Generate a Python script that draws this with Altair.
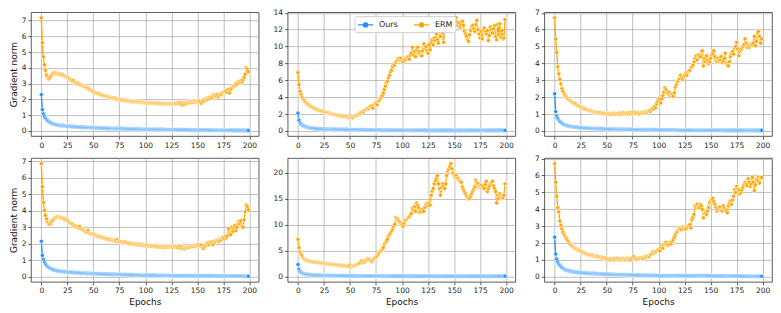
import altair as alt
import pandas as pd

EPOCHS = list(range(200))
X_TICKS = [0, 25, 50, 75, 100, 125, 150, 175, 200]
SERIES = ["Ours", "ERM"]
COLORS = ["#1e90ff", "#ffa500"]

# ---------------- panel 1 (top left) ----------------
erm_1 = [
    7.18, 5.6, 4.7, 4.2, 3.85, 3.55, 3.4, 3.3, 3.35, 3.45,
    3.55, 3.65, 3.7, 3.68, 3.62, 3.65, 3.6, 3.58, 3.62, 3.55,
    3.6, 3.52, 3.5, 3.45, 3.42, 3.38, 3.35, 3.3, 3.25, 3.2,
    3.15, 3.2, 3.1, 3.05, 3.0, 2.98, 3.02, 2.95, 2.9, 2.88,
    2.85, 2.8, 2.78, 2.75, 2.7, 2.72, 2.65, 2.6, 2.55, 2.5,
    2.52, 2.45, 2.42, 2.4, 2.38, 2.35, 2.3, 2.32, 2.28, 2.25,
    2.25, 2.22, 2.2, 2.18, 2.2, 2.15, 2.12, 2.1, 2.08, 2.1,
    2.05, 2.08, 2.02, 2.0, 2.02, 1.98, 2.0, 1.95, 1.98, 1.95,
    1.92, 1.95, 1.9, 1.92, 1.88, 1.9, 1.87, 1.88, 1.85, 1.87,
    1.85, 1.86, 1.83, 1.85, 1.82, 1.84, 1.8, 1.82, 1.8, 1.78,
    1.8, 1.78, 1.8, 1.77, 1.79, 1.76, 1.78, 1.75, 1.77, 1.74,
    1.76, 1.75, 1.74, 1.76, 1.73, 1.75, 1.72, 1.74, 1.73, 1.71,
    1.74, 1.72, 1.7, 1.73, 1.71, 1.72, 1.7, 1.74, 1.72, 1.75,
    1.73, 1.76, 1.72, 1.78, 1.68, 1.75, 1.65, 1.78, 1.7, 1.8,
    1.75, 1.82, 1.78, 1.85, 1.8, 1.88, 1.82, 1.9, 1.85, 1.82,
    1.88, 1.85, 1.9, 1.8, 1.75, 1.85, 1.95, 1.9, 2.0, 2.05,
    2.0, 2.1, 2.05, 2.15, 2.1, 2.2, 2.3, 2.25, 2.2, 2.3,
    2.15, 2.25, 2.35, 2.3, 2.4, 2.45, 2.5, 2.55, 2.45, 2.6,
    2.65, 2.4, 2.6, 2.7, 2.8, 2.85, 2.9, 3.0, 2.95, 3.1,
    3.05, 3.15, 3.2, 3.1, 3.25, 3.4, 3.6, 4.0, 3.9, 3.75,
]
ours_1 = [
    2.30, 1.35, 1.08, 0.92, 0.80, 0.72, 0.65, 0.60, 0.55, 0.52,
    0.48, 0.45, 0.43, 0.41, 0.40, 0.38, 0.37, 0.36, 0.35, 0.34,
    0.33, 0.33, 0.32, 0.31, 0.31, 0.30, 0.29, 0.29, 0.28, 0.28,
    0.27, 0.27, 0.26, 0.26, 0.25, 0.25, 0.25, 0.24, 0.24, 0.23,
    0.23, 0.23, 0.22, 0.22, 0.22, 0.21, 0.21, 0.21, 0.20, 0.20,
    0.20, 0.19, 0.19, 0.19, 0.19, 0.18, 0.18, 0.18, 0.18, 0.17,
    0.17, 0.17, 0.17, 0.16, 0.16, 0.16, 0.16, 0.16, 0.15, 0.15,
    0.15, 0.15, 0.15, 0.14, 0.14, 0.14, 0.14, 0.14, 0.13, 0.13,
    0.13, 0.13, 0.13, 0.13, 0.12, 0.12, 0.12, 0.12, 0.12, 0.12,
    0.11, 0.11, 0.11, 0.11, 0.11, 0.11, 0.10, 0.10, 0.10, 0.10,
    0.10, 0.10, 0.10, 0.09, 0.09, 0.09, 0.09, 0.09, 0.09, 0.09,
    0.09, 0.08, 0.08, 0.08, 0.08, 0.08, 0.08, 0.08, 0.08, 0.08,
    0.07, 0.07, 0.07, 0.07, 0.07, 0.07, 0.07, 0.07, 0.07, 0.07,
    0.07, 0.06, 0.06, 0.06, 0.06, 0.06, 0.06, 0.06, 0.06, 0.06,
    0.06, 0.06, 0.06, 0.05, 0.05, 0.05, 0.05, 0.05, 0.05, 0.05,
    0.05, 0.05, 0.05, 0.05, 0.05, 0.05, 0.05, 0.05, 0.05, 0.05,
    0.05, 0.04, 0.04, 0.04, 0.04, 0.04, 0.04, 0.04, 0.04, 0.04,
    0.04, 0.04, 0.04, 0.04, 0.04, 0.04, 0.04, 0.04, 0.04, 0.04,
    0.04, 0.04, 0.04, 0.04, 0.03, 0.03, 0.03, 0.03, 0.03, 0.03,
    0.03, 0.03, 0.03, 0.03, 0.03, 0.03, 0.03, 0.03, 0.03, 0.03,
]

# ---------------- panel 2 (top middle) ----------------
erm_2 = [
    6.9, 5.5, 4.7, 4.3, 4.0, 3.8, 3.6, 3.45, 3.3, 3.2,
    3.1, 3.0, 2.9, 2.85, 2.8, 2.7, 2.65, 2.6, 2.55, 2.5,
    2.45, 2.4, 2.38, 2.35, 2.3, 2.25, 2.2, 2.2, 2.15, 2.1,
    2.1, 2.05, 2.0, 2.0, 1.95, 1.92, 1.9, 1.88, 1.85, 1.85,
    1.8, 1.78, 1.75, 1.8, 1.72, 1.7, 1.75, 1.65, 1.68, 1.6,
    1.55, 1.65, 1.7, 1.6, 1.75, 1.8, 1.85, 1.9, 2.0, 2.1,
    2.05, 2.2, 2.3, 2.25, 2.45, 2.5, 2.6, 2.7, 2.65, 2.85,
    2.9, 3.0, 2.7, 3.1, 3.2, 3.3, 3.1, 3.5, 3.6, 3.8,
    4.0, 4.2, 4.5, 4.9, 5.3, 5.7, 5.9, 6.3, 6.6, 7.0,
    7.2, 7.6, 7.9, 7.8, 8.1, 8.3, 8.5, 8.6, 8.4, 8.6,
    8.3, 8.2, 8.5, 8.4, 8.7, 8.6, 8.8, 8.5, 9.0, 9.2,
    9.9, 9.0, 9.4, 8.8, 9.6, 9.9, 9.2, 9.4, 9.0, 8.9,
    9.5, 10.3, 9.8, 10.0, 9.5, 9.2, 10.2, 9.6, 10.5, 10.8,
    10.2, 11.0, 10.7, 11.5, 10.8, 10.4, 11.8, 11.2, 12.0, 11.6,
    10.5, 11.9, 12.0, 12.5, 13.0, 12.8, 13.2, 12.6, 13.0, 12.9,
    13.2, 12.7, 13.4, 12.9, 12.5, 12.8, 12.3, 12.6, 13.0, 12.5,
    11.8, 11.5, 11.2, 10.8, 10.6, 11.4, 11.9, 12.3, 12.5, 12.1,
    11.8, 12.6, 13.1, 12.0, 11.5, 11.0, 11.8, 10.9, 12.0, 12.2,
    11.8, 11.5, 11.9, 10.7, 11.3, 12.3, 12.0, 11.6, 12.1, 12.5,
    11.2, 10.8, 12.6, 11.4, 12.7, 11.1, 11.9, 10.9, 11.0, 13.2,
]
ours_2 = [
    2.10, 1.25, 0.95, 0.80, 0.70, 0.62, 0.56, 0.50, 0.46, 0.43,
    0.40, 0.37, 0.35, 0.33, 0.31, 0.30, 0.28, 0.27, 0.26, 0.25,
    0.25, 0.24, 0.23, 0.23, 0.22, 0.22, 0.21, 0.21, 0.20, 0.20,
    0.20, 0.19, 0.19, 0.19, 0.18, 0.18, 0.18, 0.17, 0.17, 0.17,
    0.17, 0.16, 0.16, 0.16, 0.16, 0.15, 0.15, 0.15, 0.15, 0.14,
    0.14, 0.14, 0.14, 0.14, 0.13, 0.13, 0.13, 0.13, 0.13, 0.12,
    0.12, 0.12, 0.12, 0.12, 0.12, 0.11, 0.11, 0.11, 0.11, 0.11,
    0.11, 0.11, 0.10, 0.10, 0.10, 0.10, 0.10, 0.10, 0.10, 0.10,
    0.09, 0.09, 0.09, 0.09, 0.09, 0.09, 0.09, 0.09, 0.09, 0.09,
    0.09, 0.08, 0.08, 0.08, 0.08, 0.08, 0.08, 0.08, 0.08, 0.08,
    0.08, 0.08, 0.08, 0.07, 0.07, 0.07, 0.07, 0.08, 0.07, 0.07,
    0.07, 0.07, 0.07, 0.07, 0.07, 0.07, 0.07, 0.07, 0.07, 0.07,
    0.07, 0.06, 0.07, 0.06, 0.06, 0.07, 0.06, 0.06, 0.06, 0.06,
    0.06, 0.06, 0.06, 0.07, 0.06, 0.06, 0.06, 0.06, 0.06, 0.06,
    0.06, 0.06, 0.06, 0.06, 0.07, 0.06, 0.06, 0.06, 0.06, 0.06,
    0.06, 0.06, 0.06, 0.07, 0.06, 0.06, 0.06, 0.06, 0.06, 0.07,
    0.06, 0.06, 0.07, 0.06, 0.06, 0.06, 0.07, 0.06, 0.06, 0.06,
    0.06, 0.07, 0.06, 0.06, 0.06, 0.07, 0.06, 0.06, 0.07, 0.06,
    0.06, 0.07, 0.06, 0.06, 0.07, 0.06, 0.07, 0.06, 0.06, 0.07,
    0.06, 0.07, 0.06, 0.07, 0.06, 0.07, 0.06, 0.07, 0.06, 0.07,
]

# ---------------- panel 3 (top right) ----------------
erm_3 = [
    6.7, 5.45, 4.65, 3.8, 3.38, 3.05, 2.78, 2.5, 2.35, 2.2,
    2.1, 2.02, 1.95, 1.88, 1.82, 1.78, 1.72, 1.68, 1.65, 1.6,
    1.62, 1.55, 1.5, 1.48, 1.45, 1.42, 1.38, 1.35, 1.3, 1.32,
    1.28, 1.25, 1.22, 1.2, 1.18, 1.2, 1.15, 1.13, 1.12, 1.1,
    1.1, 1.08, 1.07, 1.05, 1.1, 1.04, 1.02, 1.05, 1.0, 1.02,
    0.98, 1.0, 1.03, 0.97, 1.0, 1.02, 0.98, 1.05, 1.0, 0.97,
    1.02, 1.0, 1.05, 0.98, 1.03, 1.0, 1.08, 1.02, 1.05, 1.0,
    1.05, 1.02, 1.08, 1.0, 1.06, 1.12, 1.05, 1.1, 1.02, 1.08,
    1.05, 1.0, 1.08, 1.05, 1.1, 1.06, 1.12, 1.08, 1.15, 1.12,
    1.18, 1.2, 1.15, 1.25, 1.35, 1.3, 1.45, 1.38, 1.6, 1.75,
    1.9, 1.8, 1.65, 1.9, 2.1, 2.3, 2.55, 2.45, 2.3, 2.2,
    2.3, 2.1, 2.2, 2.15, 2.05, 2.25, 2.6, 2.75, 2.9, 3.0,
    3.1, 3.3, 3.15, 3.05, 3.2, 3.25, 3.4, 3.3, 3.5, 3.55,
    3.6, 3.75, 3.8, 3.9, 4.1, 4.3, 4.45, 4.2, 4.5, 4.35,
    4.4, 4.7, 4.75, 3.85, 4.3, 4.1, 4.45, 4.2, 4.0, 4.1,
    4.3, 4.5, 4.6, 4.75, 4.4, 4.2, 4.1, 4.3, 4.15, 4.2,
    4.4, 4.05, 4.15, 4.3, 4.6, 4.0, 3.9, 3.85, 4.1, 4.4,
    4.6, 4.7, 4.55, 4.9, 5.0, 5.25, 4.85, 4.45, 4.7, 4.8,
    4.9, 5.0, 5.1, 5.45, 5.2, 4.95, 5.1, 4.95, 5.05, 5.15,
    5.1, 5.2, 5.6, 5.05, 5.3, 5.8, 5.9, 5.6, 5.2, 5.45,
]
ours_3 = [
    2.20, 1.15, 0.88, 0.75, 0.65, 0.57, 0.51, 0.46, 0.42, 0.38,
    0.35, 0.33, 0.31, 0.29, 0.28, 0.27, 0.26, 0.25, 0.24, 0.23,
    0.22, 0.22, 0.21, 0.20, 0.20, 0.19, 0.19, 0.18, 0.18, 0.17,
    0.17, 0.17, 0.16, 0.16, 0.15, 0.15, 0.15, 0.14, 0.14, 0.14,
    0.14, 0.13, 0.13, 0.13, 0.13, 0.12, 0.12, 0.12, 0.12, 0.11,
    0.11, 0.11, 0.11, 0.11, 0.10, 0.10, 0.10, 0.10, 0.10, 0.10,
    0.09, 0.09, 0.09, 0.09, 0.09, 0.09, 0.09, 0.08, 0.08, 0.08,
    0.08, 0.08, 0.08, 0.08, 0.08, 0.07, 0.07, 0.07, 0.07, 0.07,
    0.07, 0.07, 0.07, 0.07, 0.07, 0.06, 0.06, 0.06, 0.06, 0.06,
    0.06, 0.06, 0.06, 0.06, 0.06, 0.06, 0.06, 0.06, 0.06, 0.05,
    0.05, 0.05, 0.05, 0.05, 0.05, 0.05, 0.05, 0.05, 0.05, 0.05,
    0.05, 0.05, 0.05, 0.05, 0.05, 0.05, 0.05, 0.05, 0.04, 0.04,
    0.04, 0.04, 0.04, 0.04, 0.04, 0.04, 0.04, 0.04, 0.04, 0.04,
    0.04, 0.04, 0.04, 0.04, 0.04, 0.04, 0.04, 0.04, 0.04, 0.04,
    0.04, 0.04, 0.04, 0.04, 0.04, 0.04, 0.04, 0.04, 0.04, 0.04,
    0.04, 0.04, 0.04, 0.04, 0.04, 0.04, 0.04, 0.04, 0.04, 0.04,
    0.04, 0.04, 0.03, 0.03, 0.03, 0.03, 0.03, 0.03, 0.03, 0.03,
    0.03, 0.03, 0.03, 0.03, 0.03, 0.03, 0.03, 0.03, 0.03, 0.03,
    0.03, 0.03, 0.03, 0.03, 0.03, 0.03, 0.03, 0.03, 0.03, 0.03,
    0.03, 0.03, 0.03, 0.03, 0.03, 0.03, 0.03, 0.03, 0.03, 0.03,
]

# ---------------- panel 4 (bottom left) ----------------
erm_4 = [
    6.85, 5.45, 4.5, 4.02, 3.72, 3.5, 3.3, 3.2, 3.18, 3.25,
    3.35, 3.42, 3.5, 3.55, 3.6, 3.62, 3.65, 3.63, 3.6, 3.58,
    3.55, 3.5, 3.52, 3.45, 3.48, 3.42, 3.35, 3.3, 3.25, 3.2,
    3.18, 3.1, 3.05, 3.08, 3.0, 3.02, 2.95, 3.05, 2.92, 2.88,
    2.85, 2.8, 2.75, 2.72, 2.7, 2.8, 2.65, 2.62, 2.6, 2.58,
    2.6, 2.55, 2.5, 2.48, 2.45, 2.42, 2.45, 2.4, 2.38, 2.35,
    2.38, 2.32, 2.3, 2.28, 2.3, 2.25, 2.22, 2.25, 2.2, 2.22,
    2.18, 2.2, 2.15, 2.25, 2.12, 2.15, 2.1, 2.12, 2.08, 2.1,
    2.12, 2.05, 2.08, 2.02, 2.05, 2.0, 2.03, 1.98, 2.0, 1.97,
    2.0, 1.95, 1.98, 1.93, 1.96, 1.92, 1.95, 1.9, 1.93, 1.88,
    1.92, 1.88, 1.9, 1.86, 1.89, 1.85, 1.88, 1.84, 1.87, 1.83,
    1.86, 1.82, 1.85, 1.8, 1.84, 1.81, 1.83, 1.79, 1.85, 1.8,
    1.84, 1.8, 1.86, 1.81, 1.85, 1.8, 1.83, 1.78, 1.84, 1.8,
    1.82, 1.78, 1.85, 1.75, 1.82, 1.72, 1.8, 1.76, 1.7, 1.78,
    1.75, 1.8, 1.78, 1.85, 1.82, 1.88, 1.84, 1.9, 1.86, 1.92,
    1.88, 1.95, 1.9, 1.85, 1.92, 1.78, 1.72, 1.82, 1.9, 2.0,
    2.05, 1.95, 2.1, 2.08, 2.12, 1.95, 2.15, 2.1, 2.2, 2.18,
    2.22, 2.15, 2.3, 2.25, 2.35, 2.4, 2.3, 2.45, 2.38, 2.5,
    2.9, 2.6, 2.55, 3.0, 2.75, 2.95, 3.1, 2.8, 3.0, 3.2,
    3.35, 3.2, 3.4, 3.05, 3.0, 3.45, 3.95, 4.35, 4.25, 4.05,
]
ours_4 = [
    2.15, 1.30, 1.05, 0.90, 0.78, 0.70, 0.63, 0.58, 0.54, 0.50,
    0.47, 0.44, 0.42, 0.40, 0.39, 0.37, 0.36, 0.35, 0.34, 0.33,
    0.32, 0.32, 0.31, 0.30, 0.30, 0.29, 0.29, 0.28, 0.28, 0.27,
    0.27, 0.26, 0.26, 0.25, 0.25, 0.25, 0.24, 0.24, 0.23, 0.23,
    0.23, 0.22, 0.22, 0.22, 0.21, 0.21, 0.21, 0.20, 0.20, 0.20,
    0.19, 0.19, 0.19, 0.19, 0.18, 0.18, 0.18, 0.18, 0.17, 0.17,
    0.17, 0.17, 0.16, 0.16, 0.16, 0.16, 0.16, 0.15, 0.15, 0.15,
    0.15, 0.15, 0.14, 0.14, 0.14, 0.14, 0.14, 0.13, 0.13, 0.13,
    0.13, 0.14, 0.13, 0.12, 0.12, 0.12, 0.12, 0.12, 0.12, 0.11,
    0.11, 0.11, 0.11, 0.11, 0.11, 0.10, 0.10, 0.10, 0.10, 0.10,
    0.10, 0.10, 0.09, 0.09, 0.09, 0.09, 0.09, 0.09, 0.09, 0.09,
    0.08, 0.08, 0.08, 0.08, 0.08, 0.08, 0.08, 0.08, 0.08, 0.08,
    0.08, 0.08, 0.08, 0.07, 0.07, 0.07, 0.07, 0.07, 0.07, 0.07,
    0.07, 0.07, 0.07, 0.07, 0.07, 0.07, 0.07, 0.07, 0.07, 0.07,
    0.07, 0.07, 0.07, 0.07, 0.07, 0.06, 0.06, 0.06, 0.06, 0.06,
    0.06, 0.06, 0.06, 0.06, 0.06, 0.06, 0.06, 0.06, 0.06, 0.06,
    0.06, 0.06, 0.06, 0.06, 0.06, 0.06, 0.06, 0.06, 0.05, 0.05,
    0.05, 0.05, 0.05, 0.05, 0.05, 0.05, 0.05, 0.05, 0.05, 0.05,
    0.05, 0.05, 0.05, 0.05, 0.05, 0.05, 0.05, 0.05, 0.05, 0.05,
    0.05, 0.05, 0.05, 0.04, 0.04, 0.04, 0.04, 0.04, 0.04, 0.04,
]

# ---------------- panel 5 (bottom middle) ----------------
erm_5 = [
    7.2, 5.6, 4.7, 4.3, 4.0, 3.6, 3.4, 3.25, 3.15, 3.05,
    3.0, 2.95, 2.92, 2.9, 2.88, 2.85, 2.82, 2.8, 2.78, 2.75,
    2.72, 2.7, 2.68, 2.65, 2.62, 2.6, 2.55, 2.52, 2.5, 2.48,
    2.45, 2.42, 2.4, 2.38, 2.35, 2.32, 2.3, 2.28, 2.25, 2.22,
    2.2, 2.18, 2.15, 2.12, 2.1, 2.12, 2.08, 2.05, 2.02, 2.0,
    2.25, 1.9, 2.1, 2.05, 2.15, 2.2, 2.3, 2.4, 2.5, 2.6,
    2.75, 3.0, 2.7, 2.9, 2.85, 3.1, 3.25, 3.4, 3.2, 3.3,
    3.1, 2.95, 3.2, 3.4, 3.6, 3.8, 4.0, 4.3, 4.6, 4.9,
    5.1, 5.3, 5.6, 6.3, 6.6, 6.8, 7.2, 7.8, 8.1, 8.4,
    8.8, 9.2, 9.7, 10.1, 11.4, 11.2, 11.0, 10.8, 10.5, 10.2,
    10.0, 9.7, 10.3, 10.8, 11.0, 11.2, 11.4, 11.6, 11.9, 12.2,
    13.2, 12.8, 13.5, 12.6, 14.2, 13.8, 13.3, 12.4, 12.9, 12.5,
    13.0, 12.6, 13.4, 13.9, 14.1, 13.7, 14.2, 13.8, 15.7, 16.5,
    17.0, 17.9, 18.5, 19.0, 19.5, 17.9, 17.0, 15.7, 17.2, 17.9,
    17.5, 17.0, 17.9, 19.5, 20.4, 20.8, 21.2, 21.8, 20.8, 20.0,
    19.6, 19.2, 19.5, 19.0, 18.9, 18.6, 18.4, 18.2, 17.3, 16.8,
    16.4, 16.0, 15.6, 15.3, 15.0, 15.1, 15.6, 16.0, 16.5, 16.9,
    17.3, 18.6, 18.2, 17.9, 17.3, 17.5, 17.6, 17.2, 17.4, 17.0,
    17.8, 18.4, 16.4, 17.0, 17.5, 17.9, 18.2, 18.4, 17.5, 17.0,
    16.4, 14.2, 15.7, 15.1, 16.0, 15.6, 15.4, 15.2, 15.7, 17.9,
]
ours_5 = [
    2.35, 1.40, 1.05, 0.85, 0.72, 0.63, 0.56, 0.50, 0.46, 0.42,
    0.39, 0.37, 0.35, 0.33, 0.31, 0.30, 0.29, 0.28, 0.27, 0.26,
    0.25, 0.25, 0.24, 0.24, 0.23, 0.23, 0.22, 0.22, 0.21, 0.21,
    0.21, 0.20, 0.20, 0.20, 0.19, 0.19, 0.19, 0.18, 0.18, 0.18,
    0.18, 0.17, 0.17, 0.17, 0.17, 0.16, 0.16, 0.16, 0.16, 0.16,
    0.15, 0.15, 0.15, 0.15, 0.15, 0.14, 0.14, 0.14, 0.14, 0.14,
    0.14, 0.14, 0.13, 0.13, 0.13, 0.13, 0.13, 0.13, 0.13, 0.13,
    0.12, 0.12, 0.12, 0.12, 0.12, 0.12, 0.12, 0.12, 0.12, 0.12,
    0.12, 0.11, 0.11, 0.11, 0.11, 0.11, 0.11, 0.11, 0.11, 0.11,
    0.11, 0.11, 0.11, 0.11, 0.10, 0.10, 0.10, 0.10, 0.10, 0.10,
    0.10, 0.10, 0.10, 0.10, 0.10, 0.10, 0.10, 0.10, 0.10, 0.10,
    0.10, 0.10, 0.10, 0.10, 0.10, 0.10, 0.10, 0.10, 0.10, 0.10,
    0.10, 0.09, 0.10, 0.10, 0.09, 0.10, 0.10, 0.09, 0.10, 0.10,
    0.10, 0.09, 0.10, 0.10, 0.09, 0.10, 0.10, 0.10, 0.09, 0.10,
    0.10, 0.10, 0.09, 0.10, 0.10, 0.10, 0.09, 0.10, 0.10, 0.10,
    0.10, 0.09, 0.10, 0.10, 0.10, 0.09, 0.10, 0.10, 0.10, 0.09,
    0.10, 0.10, 0.10, 0.09, 0.10, 0.10, 0.10, 0.10, 0.09, 0.10,
    0.10, 0.10, 0.10, 0.09, 0.10, 0.10, 0.10, 0.10, 0.10, 0.09,
    0.10, 0.10, 0.10, 0.10, 0.09, 0.10, 0.10, 0.10, 0.10, 0.10,
    0.09, 0.10, 0.10, 0.10, 0.10, 0.10, 0.09, 0.10, 0.10, 0.10,
]

# ---------------- panel 6 (bottom right) ----------------
erm_6 = [
    6.7, 5.6, 4.77, 4.1, 3.84, 3.3, 3.06, 2.83, 2.64, 2.5,
    2.38, 2.3, 2.2, 2.1, 2.0, 1.92, 1.85, 1.8, 1.75, 1.72,
    1.68, 1.65, 1.6, 1.58, 1.55, 1.52, 1.5, 1.45, 1.42, 1.4,
    1.38, 1.35, 1.33, 1.3, 1.32, 1.28, 1.25, 1.27, 1.22, 1.2,
    1.22, 1.18, 1.2, 1.15, 1.17, 1.12, 1.15, 1.1, 1.12, 1.05,
    1.08, 1.02, 1.05, 1.0, 1.06, 1.02, 1.04, 1.08, 1.0, 1.05,
    1.1, 1.03, 1.07, 1.0, 1.05, 1.08, 1.02, 1.06, 1.0, 1.04,
    1.08, 1.02, 1.05, 1.0, 1.1, 1.15, 1.2, 1.12, 1.05, 1.08,
    1.03, 1.1, 1.07, 1.15, 1.12, 1.08, 1.16, 1.2, 1.15, 1.22,
    1.25, 1.2, 1.3, 1.35, 1.47, 1.4, 1.45, 1.52, 1.5, 1.58,
    1.6, 1.55, 1.75, 1.86, 1.7, 1.9, 1.95, 2.05, 1.95, 1.85,
    1.9, 2.05, 1.95, 2.1, 2.2, 2.35, 2.5, 2.6, 2.7, 2.8,
    2.85, 2.9, 2.8, 2.95, 2.9, 2.85, 2.83, 3.0, 2.95, 3.05,
    3.1, 2.9, 3.4, 3.55, 3.7, 4.2, 4.1, 4.3, 4.15, 4.1,
    4.3, 4.2, 4.0, 3.5, 3.75, 3.8, 3.7, 3.9, 4.1, 4.4,
    4.5, 4.6, 4.65, 4.45, 4.3, 4.1, 3.9, 4.0, 4.15, 4.1,
    3.95, 3.9, 4.2, 4.05, 3.9, 3.95, 3.8, 4.2, 4.35, 4.5,
    4.3, 4.55, 4.77, 5.15, 5.0, 5.35, 5.2, 5.15, 4.9, 5.0,
    5.15, 5.3, 5.45, 5.6, 5.5, 5.4, 5.8, 5.6, 5.35, 5.5,
    5.9, 5.6, 5.1, 5.45, 5.78, 5.7, 5.9, 5.55, 5.85, 5.88,
]
ours_6 = [
    2.35, 1.35, 1.05, 0.88, 0.76, 0.68, 0.61, 0.56, 0.51, 0.47,
    0.44, 0.41, 0.39, 0.37, 0.35, 0.34, 0.32, 0.31, 0.30, 0.29,
    0.28, 0.27, 0.27, 0.26, 0.25, 0.25, 0.24, 0.24, 0.23, 0.23,
    0.22, 0.22, 0.21, 0.21, 0.21, 0.20, 0.20, 0.19, 0.19, 0.19,
    0.18, 0.18, 0.18, 0.17, 0.17, 0.17, 0.17, 0.16, 0.16, 0.16,
    0.16, 0.15, 0.15, 0.15, 0.15, 0.14, 0.14, 0.14, 0.14, 0.14,
    0.13, 0.13, 0.13, 0.13, 0.13, 0.12, 0.12, 0.12, 0.12, 0.12,
    0.12, 0.11, 0.11, 0.11, 0.11, 0.11, 0.11, 0.10, 0.10, 0.10,
    0.10, 0.10, 0.10, 0.10, 0.09, 0.09, 0.09, 0.09, 0.09, 0.09,
    0.09, 0.09, 0.08, 0.08, 0.08, 0.08, 0.08, 0.08, 0.08, 0.08,
    0.07, 0.07, 0.07, 0.07, 0.07, 0.07, 0.07, 0.07, 0.07, 0.07,
    0.07, 0.07, 0.07, 0.07, 0.07, 0.07, 0.07, 0.07, 0.07, 0.07,
    0.06, 0.06, 0.06, 0.06, 0.06, 0.06, 0.06, 0.06, 0.06, 0.06,
    0.06, 0.06, 0.06, 0.06, 0.06, 0.06, 0.06, 0.06, 0.06, 0.06,
    0.06, 0.06, 0.06, 0.06, 0.06, 0.06, 0.06, 0.06, 0.06, 0.06,
    0.05, 0.05, 0.05, 0.05, 0.05, 0.05, 0.05, 0.05, 0.05, 0.05,
    0.05, 0.05, 0.05, 0.05, 0.05, 0.05, 0.05, 0.05, 0.05, 0.05,
    0.05, 0.05, 0.05, 0.05, 0.05, 0.05, 0.05, 0.05, 0.05, 0.05,
    0.04, 0.04, 0.04, 0.04, 0.04, 0.04, 0.04, 0.04, 0.04, 0.04,
    0.04, 0.04, 0.04, 0.04, 0.04, 0.04, 0.04, 0.04, 0.04, 0.04,
]

Y_TICKS_7 = [0, 1, 2, 3, 4, 5, 6, 7]
Y_TICKS_14 = [0, 2, 4, 6, 8, 10, 12, 14]
Y_TICKS_20 = [0, 5, 10, 15, 20]

PANEL_W = 228
PANEL_H = 124

# legend handle: a short line with a dot in the middle (drawn wider than the
# nominal symbol box, so labels are offset accordingly)
LEGEND_SYMBOL = "M-1.5,0L1.5,0M0.42,0A0.42,0.42,0,1,1,-0.42,0A0.42,0.42,0,1,1,0.42,0Z"


def make_legend():
    return alt.Legend(
        orient="none", legendX=67, legendY=4, direction="horizontal",
        title=None, labelFontSize=8, labelFont="DejaVu Sans",
        labelColor="#222222", padding=2.5, strokeColor="#cfcfcf",
        fillColor="white", cornerRadius=2, columnPadding=13,
        symbolType=LEGEND_SYMBOL, symbolSize=100, symbolStrokeWidth=1.2,
        symbolOffset=2.5, labelOffset=7.5,
    )


def make_panel(ours, erm, yticks, ytitle, xtitle, legend):
    df = pd.DataFrame({
        "epoch": EPOCHS + EPOCHS,
        "value": ours + erm,
        "series": ["Ours"] * len(ours) + ["ERM"] * len(erm),
    })
    allv = ours + erm
    lo, hi = min(allv), max(allv)
    m = 0.05 * (hi - lo)
    cscale = alt.Scale(domain=SERIES, range=COLORS)
    x = alt.X("epoch:Q", title="Epochs" if xtitle else None,
              scale=alt.Scale(domain=[-9.95, 208.95], nice=False, zero=False),
              axis=alt.Axis(values=X_TICKS))
    y = alt.Y("value:Q", title="Gradient norm" if ytitle else None,
              scale=alt.Scale(domain=[lo - m, hi + m], nice=False, zero=False),
              axis=alt.Axis(values=yticks))
    leg = make_legend() if legend else None
    base = alt.Chart(df).encode(x=x, y=y)
    layers = []
    for s in SERIES:
        sub = base.transform_filter(alt.datum.series == s)
        layers.append(sub.mark_line(strokeWidth=1.3).encode(
            stroke=alt.Stroke("series:N", scale=cscale, legend=leg)))
        layers.append(sub.mark_circle(size=17, opacity=1, stroke="white", strokeWidth=0.6).encode(
            fill=alt.Fill("series:N", scale=cscale, legend=leg)))
    return alt.layer(*layers).properties(width=PANEL_W, height=PANEL_H)


panels = [
    make_panel(ours_1, erm_1, Y_TICKS_7, True, False, False),
    make_panel(ours_2, erm_2, Y_TICKS_14, False, False, True),
    make_panel(ours_3, erm_3, Y_TICKS_7, False, False, False),
    make_panel(ours_4, erm_4, Y_TICKS_7, True, True, False),
    make_panel(ours_5, erm_5, Y_TICKS_20, False, True, False),
    make_panel(ours_6, erm_6, Y_TICKS_7, False, True, False),
]

chart = alt.concat(
    *panels, columns=3, spacing={"row": 22, "column": 29}, bounds="flush"
).resolve_scale(
    fill="independent", stroke="independent"
).resolve_legend(
    fill="independent", stroke="independent"
).properties(
    padding={"left": 0, "top": 0, "right": 0, "bottom": 0},
    background="white",
).configure_view(
    stroke="#333333", strokeWidth=0.8
).configure_axis(
    labelFont="DejaVu Sans", titleFont="DejaVu Sans", labelFontSize=7.5,
    titleFontSize=9, titleFontWeight="normal", labelColor="#222222",
    titleColor="#111111", tickColor="#333333", tickSize=3, tickWidth=0.8,
    domain=False, grid=True, gridColor="#b0b0b0", gridWidth=0.8,
    labelPadding=2, titlePadding=3,
)

chart.save("out.html", embed_options={"renderer": "svg", "actions": False})
